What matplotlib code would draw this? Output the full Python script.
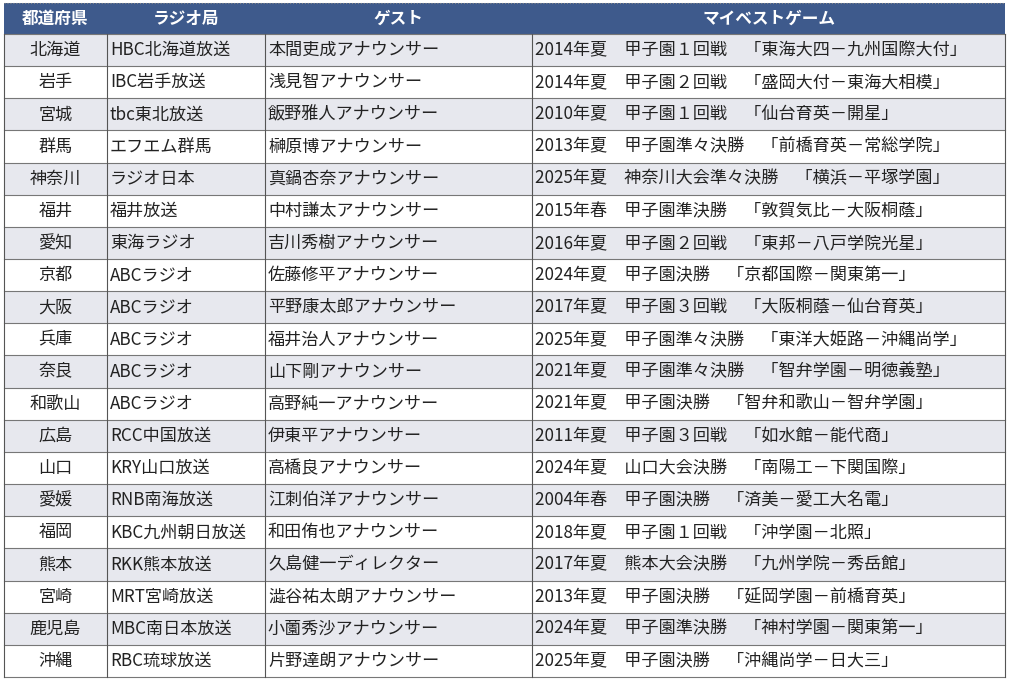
import matplotlib
matplotlib.use("Agg")
import matplotlib.pyplot as plt
from matplotlib.patches import Rectangle

plt.rcParams['font.family'] = ['Noto Sans CJK JP', 'DejaVu Sans']

headers = ["都道府県", "ラジオ局", "ゲスト", "マイベストゲーム"]
prefs = ["北海道","岩手","宮城","群馬","神奈川","福井","愛知","京都","大阪","兵庫","奈良","和歌山","広島","山口","愛媛","福岡","熊本","宮崎","鹿児島","沖縄"]
stations = ["HBC北海道放送","IBC岩手放送","tbc東北放送","エフエム群馬","ラジオ日本","福井放送","東海ラジオ","ABCラジオ","ABCラジオ","ABCラジオ","ABCラジオ","ABCラジオ","RCC中国放送","KRY山口放送","RNB南海放送","KBC九州朝日放送","RKK熊本放送","MRT宮崎放送","MBC南日本放送","RBC琉球放送"]
guests = ["本間吏成アナウンサー","浅見智アナウンサー","飯野雅人アナウンサー","榊原博アナウンサー","真鍋杏奈アナウンサー","中村謙太アナウンサー","吉川秀樹アナウンサー","佐藤修平アナウンサー","平野康太郎アナウンサー","福井治人アナウンサー","山下剛アナウンサー","高野純一アナウンサー","伊東平アナウンサー","高橋良アナウンサー","江刺伯洋アナウンサー","和田侑也アナウンサー","久島健一ディレクター","澁谷祐太朗アナウンサー","小薗秀沙アナウンサー","片野達朗アナウンサー"]
games = ["2014年夏　甲子園１回戦　「東海大四－九州国際大付」",
"2014年夏　甲子園２回戦　「盛岡大付－東海大相模」",
"2010年夏　甲子園１回戦　「仙台育英－開星」",
"2013年夏　甲子園準々決勝　「前橋育英－常総学院」",
"2025年夏　神奈川大会準々決勝　「横浜－平塚学園」",
"2015年春　甲子園準決勝　「敦賀気比－大阪桐蔭」",
"2016年夏　甲子園２回戦　「東邦－八戸学院光星」",
"2024年夏　甲子園決勝　「京都国際－関東第一」",
"2017年夏　甲子園３回戦　「大阪桐蔭－仙台育英」",
"2025年夏　甲子園準々決勝　「東洋大姫路－沖縄尚学」",
"2021年夏　甲子園準々決勝　「智弁学園－明徳義塾」",
"2021年夏　甲子園決勝　「智弁和歌山－智弁学園」",
"2011年夏　甲子園３回戦　「如水館－能代商」",
"2024年夏　山口大会決勝　「南陽工－下関国際」",
"2004年春　甲子園決勝　「済美－愛工大名電」",
"2018年夏　甲子園１回戦　「沖学園－北照」",
"2017年夏　熊本大会決勝　「九州学院－秀岳館」",
"2013年夏　甲子園決勝　「延岡学園－前橋育英」",
"2024年夏　甲子園準決勝　「神村学園－関東第一」",
"2025年夏　甲子園決勝　「沖縄尚学－日大三」"]

W, H = 1009, 680
fig = plt.figure(figsize=(W/100, H/100), dpi=100)
ax = fig.add_axes([0, 0, 1, 1])
ax.set_xlim(0, W); ax.set_ylim(H, 0); ax.axis('off')

xs = [4, 107, 265, 532, 1005]
top, hh = 3, 31
rh = (677 - (top + hh)) / len(prefs)
hdr = '#3E5A8C'
ax.add_patch(Rectangle((xs[0], top), xs[-1]-xs[0], hh, fc=hdr, ec='none'))
for i, h in enumerate(headers):
    ax.text((xs[i]+xs[i+1])/2, top+hh/2, h, color='white', fontsize=12, fontweight='bold', ha='center', va='center')

fs = 12.3
cols = [prefs, stations, guests, games]
for r in range(len(prefs)):
    y0 = top + hh + r*rh
    fc = '#E7E8EE' if r % 2 == 0 else 'white'
    ax.add_patch(Rectangle((xs[0], y0), xs[-1]-xs[0], rh, fc=fc, ec='none'))
    for c in range(4):
        t = cols[c][r]
        if c == 0:
            ax.text((xs[0]+xs[1])/2, y0+rh/2, t, fontsize=fs, ha='center', va='center', color='#222')
        else:
            ax.text(xs[c]+3, y0+rh/2, t, fontsize=fs, ha='left', va='center', color='#222')
    ax.plot([xs[0], xs[-1]], [y0+rh, y0+rh], color='#777', lw=0.8)
ax.plot([xs[0], xs[-1]], [top+hh, top+hh], color='#777', lw=0.8)
for x in xs:
    ax.plot([x, x], [top+hh, 677], color='#555', lw=0.8)
ax.plot([xs[0], xs[-1]], [top, top], color='#888', lw=0.8, ls=':')
fig.savefig('out.png', dpi=100)
